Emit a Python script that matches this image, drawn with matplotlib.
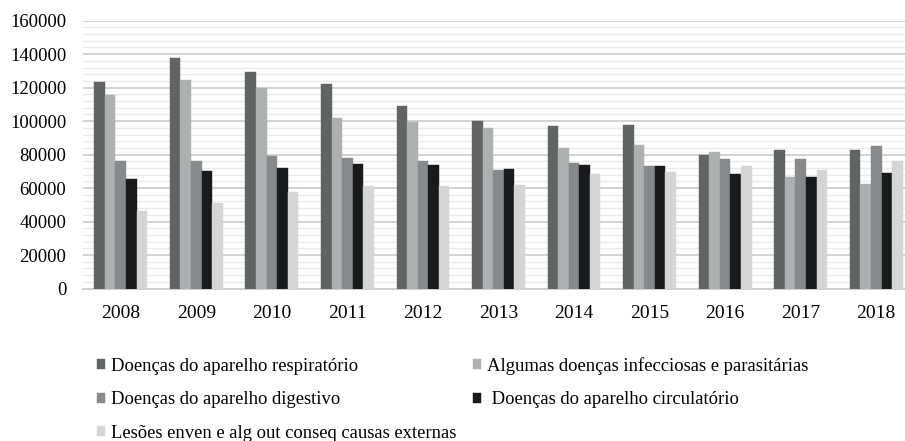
import matplotlib
matplotlib.use("Agg")
import matplotlib.pyplot as plt
import numpy as np
from matplotlib.ticker import MultipleLocator

years = ["2008", "2009", "2010", "2011", "2012", "2013", "2014", "2015", "2016", "2017", "2018"]
respiratorio = [123600, 137600, 129600, 122200, 108800, 100200, 97200, 97800, 80000, 83000, 83000]
infecciosas = [115600, 124800, 119800, 102000, 99600, 96000, 83800, 86000, 81800, 66600, 62200]
digestivo = [76200, 76200, 79400, 78200, 76200, 70800, 75000, 73200, 77400, 77400, 85000]
circulatorio = [65200, 70200, 72000, 74400, 73800, 71200, 73800, 73200, 68400, 66400, 68800]
lesoes = [46400, 51200, 57800, 61000, 61000, 61600, 68400, 69600, 73200, 70800, 76400]

series = [
    ("Doenças do aparelho respiratório", respiratorio, "#606465"),
    ("Algumas doenças infecciosas e parasitárias", infecciosas, "#adb0b1"),
    ("Doenças do aparelho digestivo", digestivo, "#878a8c"),
    (" Doenças do aparelho circulatório", circulatorio, "#181a1c"),
    ("Lesões enven e alg out conseq causas externas", lesoes, "#d4d6d6"),
]

plt.rcParams['font.family'] = ['Liberation Serif', 'DejaVu Serif']

fig = plt.figure(figsize=(9.05, 4.41), dpi=100)
ax = fig.add_axes([83/905, 1 - 288.5/441, (914-83)/905, (288.5-20.7)/441])

x = np.arange(len(years))
w = 0.14
handles = []
for i, (name, vals, col) in enumerate(series):
    b = ax.bar(x + (i - 2) * w, vals, width=w, color=col, label=name, zorder=3,
               edgecolor=col, linewidth=0.3)
    handles.append(b)

ax.set_xlim(-0.5, len(years) - 0.5)
ax.set_ylim(0, 160000)
ax.yaxis.set_major_locator(MultipleLocator(20000))
ax.yaxis.set_minor_locator(MultipleLocator(4000))
ax.grid(axis='y', which='major', color='#d2d2d2', linewidth=1.4, zorder=0)
ax.grid(axis='y', which='minor', color='#ebebeb', linewidth=1.0, zorder=0)
ax.set_xticks(x)
ax.set_xticklabels(years)
for s in ['top', 'right', 'left']:
    ax.spines[s].set_visible(False)
ax.spines['bottom'].set_color('#cfcfcf')
ax.spines['bottom'].set_linewidth(1.4)
ax.tick_params(axis='both', which='both', length=0)
ax.tick_params(axis='x', labelsize=14, pad=12)
ax.tick_params(axis='y', labelsize=13.5, pad=12)
ax.set_axisbelow(True)

order = [0, 2, 4, 1, 3]
leg = fig.legend([handles[i] for i in order], [series[i][0] for i in order],
                 ncol=2, loc='upper left', bbox_to_anchor=(97/905, 1 - 357/441),
                 frameon=False, fontsize=13.4, handlelength=0.45, handleheight=0.45,
                 handletextpad=0.3, columnspacing=0.9, labelspacing=0.88,
                 borderaxespad=0, borderpad=0)

fig.savefig("out.png", dpi=100)
